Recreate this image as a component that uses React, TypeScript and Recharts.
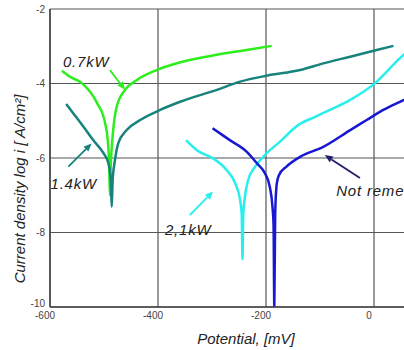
import React from 'react';
import { LineChart, Line, XAxis, YAxis, CartesianGrid, ReferenceLine, ReferenceDot } from 'recharts';

const xTicks = [-600, -400, -200, 0];
const yTicks = [-10, -8, -6, -4, -2];

// 0.7kW
const potential07 = [-578, -563, -541, -513, -498, -492, -490, -489, -487.5, -485, -483, -476.5, -461, -439.5, -402.5, -353, -291, -236, -189.5];
const logi07 = [-3.66, -3.82, -3.99, -4.52, -5.06, -5.7, -6.4, -7.0, -6.2, -5.6, -5.25, -4.62, -4.17, -3.91, -3.64, -3.41, -3.23, -3.1, -2.99];

// 1.4kW
const potential14 = [-570, -557, -538, -520, -501, -492, -487.5, -485.7, -484, -479.6, -473.5, -458, -433, -396, -359, -291, -248, -199, -137, -94, -44, 5, 36];
const logi14 = [-4.55, -4.8, -5.16, -5.52, -5.87, -6.13, -6.6, -7.31, -6.6, -6.05, -5.6, -5.25, -4.98, -4.71, -4.49, -4.17, -3.95, -3.79, -3.64, -3.46, -3.28, -3.1, -2.99];

// 2,1kW
const potential21 = [-348, -328, -298, -273, -257, -248, -245, -243.5, -242, -239, -233, -220, -202, -174, -140, -110, -81.5, -44, 2, 48, 65];
const logi21 = [-5.52, -5.79, -6.01, -6.32, -6.68, -7.13, -7.5, -8.72, -7.5, -7.04, -6.59, -6.23, -5.92, -5.56, -5.11, -4.9, -4.71, -4.44, -3.99, -3.32, -3.1];

// Not remelted
const potentialNR = [-299, -267, -236, -217, -202, -193, -188, -186, -184.6, -183, -180, -176, -162, -137, -94, -44, -13.5, 17, 48, 67];
const logiNR = [-5.2, -5.52, -5.83, -6.14, -6.41, -6.77, -7.31, -7.8, -10, -7.5, -6.68, -6.46, -6.23, -5.97, -5.7, -5.25, -4.98, -4.71, -4.49, -4.36];

const seriesColors = ['#2cee1c', '#17837d', '#2aeeee', '#1818d2'];
const arrowColors = ['#2cee1c', '#17837d', '#2aeeee', '#20206a'];

const labelText = ['0.7kW', '1.4kW', '2,1kW', 'Not remelted'];
const labelX = [-533, -556, -344, -70];
const labelY = [-3.41, -6.68, -7.93, -6.86];
const labelAnchor = ['middle', 'middle', 'middle', 'start'];

const arrowFromX = [-489, -566, -341, -26];
const arrowFromY = [-3.64, -6.23, -7.53, -6.54];
const arrowToX = [-461, -523, -298, -91];
const arrowToY = [-4.17, -5.61, -6.9, -5.92];

const zip = (xs: number[], ys: number[]) => xs.map((x, i) => ({ x, y: ys[i] }));
const seriesData = [
  zip(potential07, logi07),
  zip(potential14, logi14),
  zip(potential21, logi21),
  zip(potentialNR, logiNR),
];

const FONT = '"Liberation Sans", Arial, sans-serif';

const arrowShape = (color: string) => (p: any) => {
  const { x1, y1, x2, y2 } = p;
  const ang = Math.atan2(y2 - y1, x2 - x1);
  const L = 8;
  const W = 3.5;
  const bx = x2 - L * Math.cos(ang);
  const by = y2 - L * Math.sin(ang);
  const pts = `${x2},${y2} ${bx - W * Math.sin(ang)},${by + W * Math.cos(ang)} ${bx + W * Math.sin(ang)},${by - W * Math.cos(ang)}`;
  return (
    <g>
      <line x1={x1} y1={y1} x2={bx} y2={by} stroke={color} strokeWidth={1.8} />
      <polygon points={pts} fill={color} />
    </g>
  );
};

const textShape = (text: string, anchor: string) => (p: any) => (
  <text
    x={p.cx}
    y={p.cy}
    textAnchor={anchor}
    dominantBaseline="central"
    fontFamily={FONT}
    fontStyle="italic"
    fontSize={15}
    letterSpacing={0.8}
    fill="#222"
  >
    {text}
  </text>
);

const yTick = (p: any) => (
  <text
    x={p.x}
    y={p.y + (p.payload.value === -10 ? -4 : 0)}
    dy="0.355em"
    textAnchor="end"
    fontSize={10}
    fill="#444"
    fontFamily={FONT}
  >
    {p.payload.value}
  </text>
);

export default function App() {
  return (
    <div style={{ position: 'absolute', left: 0, top: 0, width: 404, height: 350, overflow: 'hidden', background: '#fff' }}>
      <LineChart width={440} height={350} margin={{ top: 9, right: 12, bottom: 13, left: 0 }}>
        <CartesianGrid stroke="#555" strokeWidth={1.2} />
        <XAxis
          type="number"
          dataKey="x"
          domain={[-600, 100]}
          ticks={xTicks}
          allowDataOverflow
          height={30}
          tickLine={false}
          tickSize={0}
          tickMargin={5}
          axisLine={{ stroke: '#444', strokeWidth: 1.5 }}
          tick={{ fontSize: 10, fill: '#444', dx: -5, fontFamily: FONT }}
          label={{
            content: (props: any) => {
              const vb = props.viewBox;
              return (
                <text x={vb.x + vb.width / 2 + 7} y={vb.y + 37} textAnchor="middle" fontFamily={FONT} fontStyle="italic" fontSize={15} fill="#222">
                  Potential, [mV]
                </text>
              );
            },
          }}
        />
        <YAxis
          type="number"
          domain={[-10, -2]}
          ticks={yTicks}
          allowDataOverflow
          width={50}
          tickLine={false}
          tickSize={0}
          tickMargin={5}
          axisLine={{ stroke: '#444', strokeWidth: 1.5 }}
          tick={yTick}
          label={{
            content: (props: any) => {
              const vb = props.viewBox;
              const cx = vb.x + 25;
              const cy = vb.y + vb.height / 2 + 31;
              return (
                <text x={cx} y={cy} transform={`rotate(-90, ${cx}, ${cy})`} textAnchor="middle" fontFamily={FONT} fontStyle="italic" fontSize={15} fill="#222">
                  Current density log i [ A/cm²]
                </text>
              );
            },
          }}
        />
        {seriesData.map((d, i) => (
          <Line
            key={labelText[i]}
            data={d}
            dataKey="y"
            name={labelText[i]}
            type="monotone"
            stroke={seriesColors[i]}
            strokeWidth={2.5}
            dot={false}
            isAnimationActive={false}
          />
        ))}
        {labelText.map((t, i) => (
          <ReferenceLine
            key={'a' + i}
            segment={[
              { x: arrowFromX[i], y: arrowFromY[i] },
              { x: arrowToX[i], y: arrowToY[i] },
            ]}
            shape={arrowShape(arrowColors[i])}
          />
        ))}
        {labelText.map((t, i) => (
          <ReferenceDot key={'t' + i} x={labelX[i]} y={labelY[i]} r={0} shape={textShape(t, labelAnchor[i])} />
        ))}
      </LineChart>
    </div>
  );
}
